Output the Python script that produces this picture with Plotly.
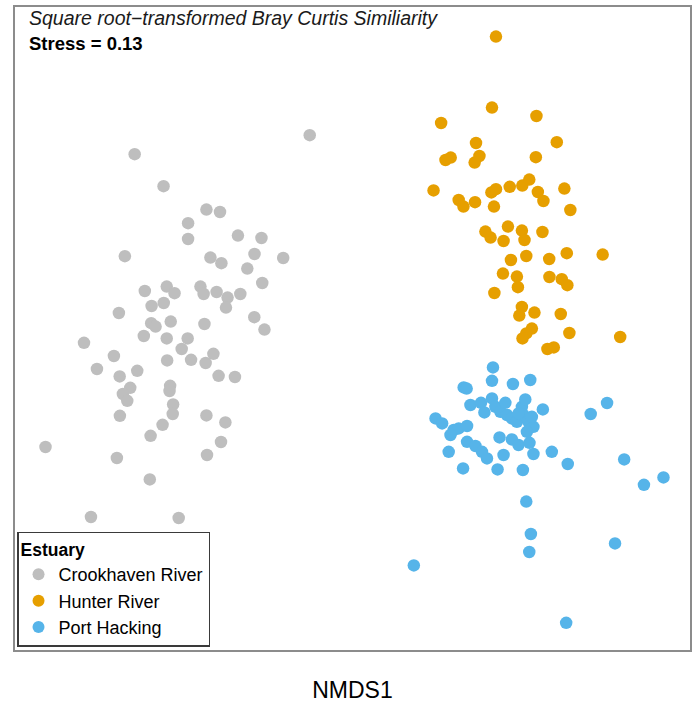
import plotly.graph_objects as go

# NMDS coordinates (arbitrary NMDS units)
crook_x = [-0.197, -1.075, -0.93, -0.715, -0.647, -0.807, -0.807, -0.557, -0.439, -1.124,
           -0.695, -0.64, -0.474, -0.33, -0.51, -0.435, -1.024, -0.914, -0.875, -0.745,
           -0.729, -0.664, -0.609, -0.545, -0.99, -0.929, -0.617, -1.154, -0.475, -0.992,
           -0.97, -0.894, -0.725, -0.424, -1.329, -1.029, -0.914, -0.809, -0.839, -0.68,
           -1.179, -0.912, -0.792, -0.719, -1.264, -1.15, -1.062, -0.654, -0.572, -1.097,
           -1.134, -1.112, -0.897, -0.9, -0.882, -0.884, -1.149, -0.715, -0.62, -0.935,
           -0.995, -0.642, -1.522, -1.164, -0.712, -0.999, -1.294, -0.854]
crook_y = [0.974, 0.879, 0.719, 0.602, 0.59, 0.534, 0.455, 0.472, 0.46, 0.369,
           0.362, 0.334, 0.38, 0.36, 0.307, 0.235, 0.195, 0.217, 0.184, 0.217,
           0.18, 0.19, 0.162, 0.18, 0.12, 0.135, 0.112, 0.085, 0.064, 0.034,
           0.017, 0.042, 0.03, 0.002, -0.064, -0.03, -0.042, -0.042, -0.095, -0.119,
           -0.13, -0.152, -0.149, -0.165, -0.195, -0.232, -0.204, -0.229, -0.235, -0.289,
           -0.32, -0.354, -0.279, -0.305, -0.372, -0.42, -0.429, -0.427, -0.462, -0.474,
           -0.529, -0.56, -0.585, -0.64, -0.625, -0.747, -0.935, -0.94]

hunter_x = [0.737, 0.717, 0.462, 0.94, 0.637, 1.042, 0.484, 0.51, 0.654, 0.63,
            0.937, 0.424, 0.55, 0.574, 0.632, 0.714, 0.737, 0.727, 0.806, 0.869,
            0.904, 0.947, 0.975, 1.08, 1.11, 0.684, 0.71, 0.797, 0.775, 0.867,
            0.88, 0.97, 0.812, 0.889, 1.004, 1.092, 1.272, 0.772, 0.842, 0.847,
            1.005, 1.067, 1.095, 0.729, 0.867, 0.854, 0.93, 1.062, 0.917, 0.889,
            0.87, 1.105, 1.36, 0.995, 1.027]
hunter_y = [1.467, 1.112, 1.035, 1.07, 0.935, 0.939, 0.85, 0.862, 0.87, 0.837,
            0.864, 0.698, 0.65, 0.617, 0.639, 0.688, 0.704, 0.617, 0.716, 0.722,
            0.752, 0.69, 0.645, 0.707, 0.6, 0.492, 0.462, 0.517, 0.445, 0.497,
            0.45, 0.49, 0.35, 0.37, 0.355, 0.384, 0.377, 0.282, 0.267, 0.214,
            0.265, 0.254, 0.224, 0.185, 0.115, 0.072, 0.087, 0.08, 0.007, -0.017,
            -0.042, -0.015, -0.035, -0.095, -0.087]

port_x = [0.722, 0.717, 0.575, 0.59, 0.822, 0.909, 0.609, 0.662, 0.679, 0.717,
          0.734, 0.759, 0.784, 0.792, 0.817, 0.842, 0.867, 0.884, 0.875, 0.9,
          0.925, 0.892, 0.85, 0.917, 0.972, 0.434, 0.467, 0.525, 0.55, 0.592,
          0.509, 0.755, 0.817, 0.85, 0.905, 0.592, 0.634, 0.667, 0.692, 0.5,
          0.775, 0.925, 1.017, 0.572, 0.745, 0.872, 1.097, 1.212, 1.294, 1.38,
          1.479, 1.577, 0.889, 0.912, 0.904, 1.334, 0.325, 1.089]
port_y = [-0.187, -0.254, -0.287, -0.293, -0.27, -0.25, -0.375, -0.364, -0.412, -0.342,
          -0.384, -0.409, -0.364, -0.425, -0.442, -0.459, -0.384, -0.347, -0.425, -0.459,
          -0.484, -0.509, -0.417, -0.434, -0.397, -0.442, -0.467, -0.5, -0.492, -0.48,
          -0.525, -0.537, -0.547, -0.575, -0.564, -0.559, -0.58, -0.609, -0.642, -0.609,
          -0.625, -0.62, -0.609, -0.692, -0.697, -0.7, -0.67, -0.42, -0.365, -0.647,
          -0.774, -0.737, -0.858, -1.02, -1.11, -1.067, -1.177, -1.464]

series = [
    ("Crookhaven River", crook_x, crook_y, "#BEBEBE"),
    ("Hunter River", hunter_x, hunter_y, "#E69F00"),
    ("Port Hacking", port_x, port_y, "#56B4E9"),
]

FONT = "Liberation Sans, Arial, sans-serif"

fig = go.Figure()
for name, xs, ys, col in series:
    fig.add_trace(go.Scatter(
        x=xs, y=ys, mode="markers", name=name,
        marker=dict(size=12.5, color=col, line=dict(width=0)),
    ))

fig.update_layout(
    width=693, height=706,
    margin=dict(l=15, r=1, t=7, b=56),
    paper_bgcolor="white", plot_bgcolor="white",
    font=dict(family=FONT, color="#000000"),
    showlegend=True,
    legend=dict(
        x=0.003, y=0.005, xanchor="left", yanchor="bottom",
        bgcolor="white", bordercolor="#3a3a3a", borderwidth=1.5,
        font=dict(size=18, family=FONT),
        title=dict(text="<b>Estuary</b>", font=dict(size=17.5, family=FONT)),
        itemsizing="constant",
        tracegroupgap=2,
    ),
    xaxis=dict(
        range=[-1.675, 1.71], showgrid=False, zeroline=False,
        showticklabels=False, ticks="",
        showline=True, mirror=True, linecolor="#8c8c8c", linewidth=2,
        title=dict(text="NMDS1", font=dict(size=23, family=FONT), standoff=31),
    ),
    yaxis=dict(
        range=[-1.6, 1.615], showgrid=False, zeroline=False,
        showticklabels=False, ticks="",
        showline=True, mirror=True, linecolor="#8c8c8c", linewidth=2,
    ),
)

fig.add_annotation(
    xref="paper", yref="paper", x=0.018, y=1.003, xanchor="left", yanchor="top",
    text="<i>Square root\u2212transformed Bray Curtis Similiarity</i>",
    showarrow=False, font=dict(size=19.5, family=FONT, color="#1a1a1a"),
)
fig.add_annotation(
    xref="paper", yref="paper", x=0.018, y=0.963, xanchor="left", yanchor="top",
    text="<b>Stress = 0.13</b>",
    showarrow=False, font=dict(size=18.5, family=FONT, color="#000000"),
)

fig.write_html("out.html")
